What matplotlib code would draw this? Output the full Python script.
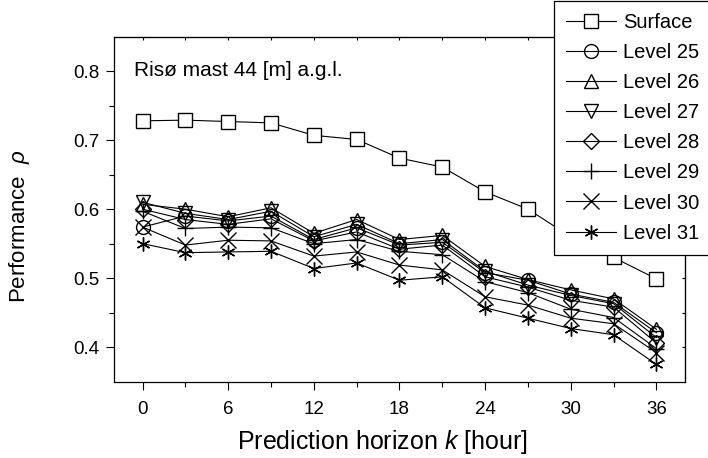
import numpy as np
import matplotlib
matplotlib.use("Agg")
import matplotlib.pyplot as plt

plt.rcParams['font.family'] = ['Liberation Sans', 'DejaVu Sans']
plt.rcParams['mathtext.fontset'] = 'custom'
plt.rcParams['mathtext.rm'] = 'Liberation Sans'
plt.rcParams['mathtext.it'] = 'Liberation Sans:italic'

horizon = [0, 3, 6, 9, 12, 15, 18, 21, 24, 27, 30, 33, 36]

surface = [0.728, 0.729, 0.727, 0.725, 0.707, 0.701, 0.674, 0.661, 0.625, 0.600, 0.560, 0.530, 0.499]
level25 = [0.574, 0.590, 0.583, 0.590, 0.556, 0.573, 0.548, 0.552, 0.508, 0.497, 0.477, 0.465, 0.421]
level26 = [0.607, 0.600, 0.589, 0.602, 0.565, 0.585, 0.556, 0.562, 0.517, 0.498, 0.483, 0.470, 0.426]
level27 = [0.610, 0.594, 0.585, 0.597, 0.560, 0.578, 0.550, 0.556, 0.510, 0.490, 0.475, 0.463, 0.414]
level28 = [0.600, 0.585, 0.578, 0.586, 0.554, 0.567, 0.542, 0.548, 0.502, 0.487, 0.468, 0.458, 0.406]
level29 = [0.597, 0.572, 0.574, 0.573, 0.550, 0.556, 0.539, 0.534, 0.495, 0.479, 0.455, 0.443, 0.398]
level30 = [0.574, 0.548, 0.555, 0.554, 0.532, 0.538, 0.519, 0.512, 0.473, 0.461, 0.442, 0.434, 0.392]
level31 = [0.550, 0.537, 0.538, 0.539, 0.514, 0.522, 0.497, 0.502, 0.457, 0.442, 0.427, 0.418, 0.375]

series = [
    ("Surface", surface, "s"),
    ("Level 25", level25, "o"),
    ("Level 26", level26, "^"),
    ("Level 27", level27, "v"),
    ("Level 28", level28, "D"),
    ("Level 29", level29, "+"),
    ("Level 30", level30, "x"),
    ("Level 31", level31, (6, 2, 0)),
]

fig = plt.figure(figsize=(7.08, 4.58), dpi=100)
ax = fig.add_axes([0.161, 0.1666, 0.8065, 0.7534])

for name, vals, mk in series:
    size = 10
    if mk == "D":
        size = 8
    elif mk in ("+", "x"):
        size = 11
    elif mk == "s":
        size = 9.5
    fill = "white" if mk == "s" else "none"
    ax.plot(horizon, vals, color="black", lw=0.8, marker=mk, ms=size,
            mfc=fill, mec="black", mew=1.0, label=name)

ax.set_xlim(-2, 38)
ax.set_ylim(0.35, 0.85)
ax.set_xticks(range(0, 37, 6))
ax.set_xticks(range(3, 37, 6), minor=True)
ax.set_yticks([0.4, 0.5, 0.6, 0.7, 0.8])
ax.set_yticks([0.45, 0.55, 0.65, 0.75], minor=True)
ax.tick_params(which="both", direction="out", labelsize=13.5, width=0.8)
ax.tick_params(which="major", length=6, pad=4.5)
ax.tick_params(which="minor", length=3.6)
ax.tick_params(axis="x", pad=8)
for s in ax.spines.values():
    s.set_linewidth(0.9)

# small unlabeled ticks on top and right
top = ax.secondary_xaxis("top")
top.set_xticks(range(0, 37, 3))
top.tick_params(direction="in", length=2.5, width=0.8, labeltop=False)
right = ax.secondary_yaxis("right")
right.set_yticks([0.4, 0.45, 0.5, 0.55, 0.6, 0.65, 0.7, 0.75, 0.8])
right.tick_params(direction="in", length=2.5, width=0.8, labelright=False)

ax.set_xlabel("Prediction horizon $k$ [hour]", fontsize=18, labelpad=5)
ax.xaxis.set_label_coords(0.47, -0.135)
ax.set_ylabel("Performance  $\\rho$", fontsize=16)
ax.yaxis.set_label_coords(-0.143, 0.45)
ax.text(0.035, 0.885, "Risø mast 44 [m] a.g.l.", transform=ax.transAxes, fontsize=15)

leg = fig.legend(loc="upper left", bbox_to_anchor=(554 / 708, 1 - 1 / 458), fontsize=14.5,
                 fancybox=False, framealpha=1, edgecolor="black",
                 handlelength=2.5, handletextpad=0.33, labelspacing=0.55,
                 borderpad=0.6, borderaxespad=0)
leg.get_frame().set_linewidth(0.9)

fig.savefig("out.png", dpi=100)
